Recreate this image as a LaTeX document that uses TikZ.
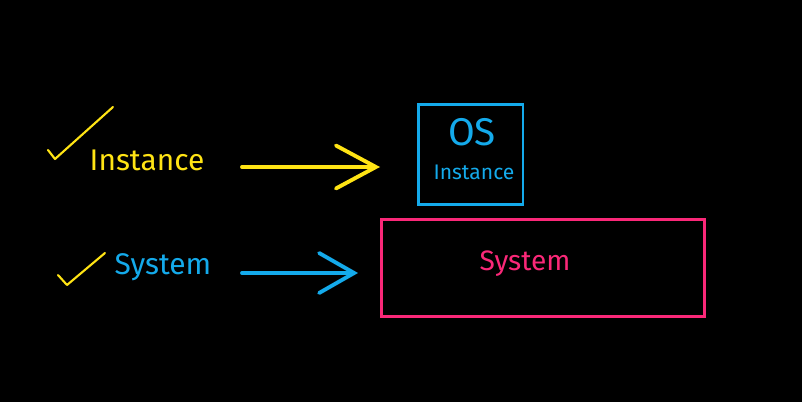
\documentclass[tikz,border=0pt]{standalone}
\usepackage{fontspec}
\setmainfont{Fira Sans}
\usetikzlibrary{arrows.meta}

\definecolor{penyellow}{RGB}{255,228,20}
\definecolor{penblue}{RGB}{20,170,235}
\definecolor{penpink}{RGB}{250,40,120}

\tikzset{
	tick/.style={penyellow, line width=1.2pt, line cap=round, line join=round},
	bigarrow/.style={line width=2.2pt, line cap=round, -{Straight Barb[length=0.8cm, width=0.86cm, line cap=round]}},
	penbox/.style={draw, line width=1.7pt, inner sep=0pt}
}

\begin{document}
\begin{tikzpicture}[x=0.02cm, y=-0.02cm]

	% Background
	\fill[black] (0,0) rectangle (802,402);
	\useasboundingbox (0,0) rectangle (802,402);

	% Boxes
	\node[penbox, penblue, minimum width=2.1cm, minimum height=2.02cm] (osbox) at (470.5,154.5) {};
	\node[penbox, penpink, minimum width=6.46cm, minimum height=1.96cm] (sysbox) at (543,268) {};

	% Box texts
	\node[penblue, font=\fontsize{22}{24}\selectfont] (os) at (472,132) {OS};
	\node[penblue, font=\fontsize{12}{14}\selectfont] (osinst) at (474,172) {Instance};
	\node[penpink, font=\fontsize{16}{18}\selectfont] (systxt) at (525,264) {System};

	% Left labels
	\node[penyellow, font=\fontsize{17}{19}\selectfont] (inst) at (147,160) {Instance};
	\node[penblue, font=\fontsize{17}{19}\selectfont] (sys) at (163,267) {System};

	% Ticks
	\draw[tick] (48,150) -- (55,159) -- (113,107);
	\draw[tick] (58,275) -- (67,285) -- (105,253);

	% Arrow ends
	\coordinate (instfrom) at (242,167);
	\coordinate (instto) at (380,167);
	\coordinate (sysfrom) at (242,273);
	\coordinate (systo) at (358,273);

	% Arrows
	\draw[bigarrow, penyellow] (instfrom) -- (instto);
	\draw[bigarrow, penblue, -{Straight Barb[length=0.7cm, width=0.8cm, line cap=round]}] (sysfrom) -- (systo);

\end{tikzpicture}
\end{document}
